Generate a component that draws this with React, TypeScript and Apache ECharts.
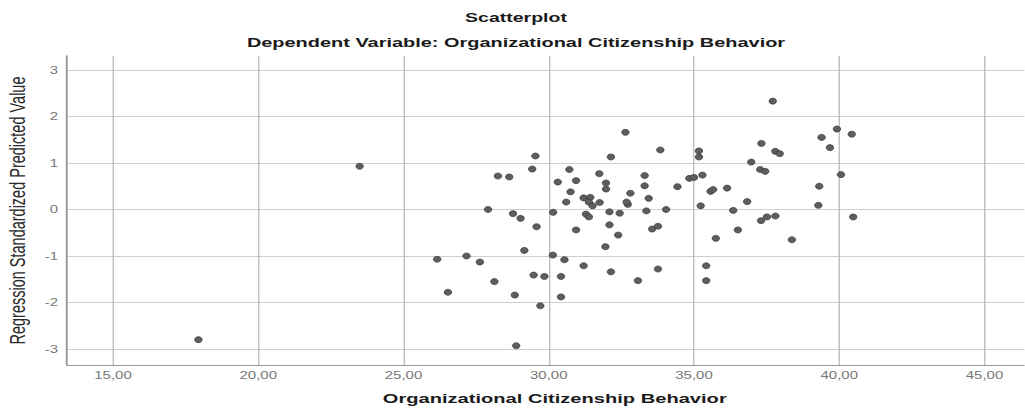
import React, { useEffect, useRef } from "react";
import * as echarts from "echarts";

// The reference image is stretched horizontally; the chart is drawn in a narrower box and stretched by CSS.
const SCALE_X = 1.5;

const chartTitle = "Scatterplot";
const chartSubtitle = "Dependent Variable: Organizational Citizenship Behavior";
const xAxisTitle = "Organizational Citizenship Behavior";
const yAxisTitle = "Regression Standardized Predicted Value";

const xTicks = [15, 20, 25, 30, 35, 40, 45];
const yTicks = [-3, -2, -1, 0, 1, 2, 3];

// Organizational Citizenship Behavior (x)
const ocb = [
  17.94, 23.49,
  32.64, 33.84, 29.54, 32.14, 29.43, 30.71, 28.25, 28.64, 31.74, 33.3,
  30.31, 30.94, 31.97, 31.97, 33.3, 30.75, 32.81, 31.2, 31.43, 33.44,
  30.6, 31.38, 31.51, 31.75, 32.72, 32.68, 27.91, 28.77, 29.03, 30.15,
  31.28, 31.38, 32.09, 32.44, 33.36, 34.04, 29.58, 32.09, 30.94, 32.39,
  33.56, 33.76, 31.95, 29.16, 26.16, 27.17, 27.63, 30.14, 30.54, 31.2,
  32.14, 33.76, 29.48, 29.85, 30.42, 28.13, 33.07, 26.53, 28.83, 30.42,
  29.71, 28.88,
  37.71, 39.92, 40.43, 39.39, 39.68, 37.32, 37.8, 37.95, 35.17, 35.17,
  36.97, 37.28, 37.45, 34.84, 35.0, 35.29, 34.43, 35.57, 35.66, 36.14,
  35.23, 36.83, 36.35, 39.31, 39.28, 40.06, 40.48, 37.31, 37.51, 37.8,
  36.51, 35.75, 38.37, 35.42, 35.42,
];

// Regression Standardized Predicted Value (y)
const zpred = [
  -2.8, 0.93,
  1.66, 1.28, 1.15, 1.13, 0.87, 0.86, 0.72, 0.7, 0.77, 0.73,
  0.59, 0.62, 0.57, 0.44, 0.51, 0.38, 0.35, 0.25, 0.26, 0.24,
  0.16, 0.16, 0.08, 0.15, 0.11, 0.16, 0.0, -0.09, -0.19, -0.06,
  -0.1, -0.16, -0.05, -0.08, -0.03, 0.0, -0.37, -0.33, -0.44, -0.55,
  -0.42, -0.36, -0.8, -0.88, -1.07, -1.0, -1.13, -0.98, -1.08, -1.21,
  -1.34, -1.28, -1.41, -1.44, -1.44, -1.55, -1.53, -1.78, -1.84, -1.88,
  -2.07, -2.93,
  2.33, 1.73, 1.62, 1.55, 1.33, 1.42, 1.25, 1.2, 1.26, 1.13,
  1.02, 0.86, 0.82, 0.67, 0.69, 0.74, 0.49, 0.39, 0.43, 0.46,
  0.08, 0.17, -0.02, 0.5, 0.09, 0.75, -0.16, -0.24, -0.16, -0.14,
  -0.44, -0.62, -0.65, -1.21, -1.53,
];

const FONT = "'Liberation Sans', Arial, Helvetica, sans-serif";

export default function App() {
  const ref = useRef<HTMLDivElement>(null);

  useEffect(() => {
    if (!ref.current) return;
    const chart = echarts.init(ref.current, null, { renderer: "svg" });
    const points = ocb.map((x, i) => [x, zpred[i]]);
    chart.setOption({
      animation: false,
      backgroundColor: "#ffffff",
      grid: {
        left: 67 / SCALE_X,
        right: 0,
        top: 56,
        bottom: 44,
        containLabel: false,
        outerBoundsMode: "none",
      },
      graphic: [
        {
          type: "text",
          x: 516 / SCALE_X,
          y: 18,
          style: {
            text: chartTitle,
            font: `bold 13px ${FONT}`,
            fill: "#1a1a1a",
            align: "center",
            verticalAlign: "middle",
          },
        },
        {
          type: "text",
          x: 516 / SCALE_X,
          y: 43,
          style: {
            text: chartSubtitle,
            font: `bold 13.3px ${FONT}`,
            fill: "#1a1a1a",
            align: "center",
            verticalAlign: "middle",
          },
        },
      ],
      xAxis: {
        type: "value",
        min: 13.417,
        max: 46.376,
        name: xAxisTitle,
        nameLocation: "middle",
        nameGap: 27,
        nameTextStyle: {
          fontFamily: FONT,
          fontWeight: "bold",
          fontSize: 13.4,
          color: "#1a1a1a",
          padding: [0, 0, 0, 12],
        },
        axisLine: { show: true, onZero: false, lineStyle: { color: "#999999", width: 1 } },
        axisTick: { show: false, customValues: xTicks },
        axisLabel: {
          customValues: xTicks,
          margin: 5,
          fontFamily: FONT,
          fontSize: 10,
          color: "#777777",
          formatter: (v: number) => v.toFixed(2).replace(".", ","),
        },
        splitLine: { show: true, lineStyle: { color: "#b4b4b4", width: 0.8 } },
      },
      yAxis: {
        type: "value",
        min: -3.344,
        max: 3.301,
        name: yAxisTitle,
        nameLocation: "middle",
        nameRotate: 90,
        nameGap: 21,
        nameTextStyle: {
          fontFamily: FONT,
          fontSize: 14.5,
          color: "#2a2a2a",
        },
        axisLine: { show: true, onZero: false, lineStyle: { color: "#999999", width: 1.3 } },
        axisTick: { show: false, customValues: yTicks },
        axisLabel: {
          customValues: yTicks,
          margin: 6,
          fontFamily: FONT,
          fontSize: 10,
          color: "#777777",
          formatter: (v: number) => String(v),
        },
        splitLine: { show: true, lineStyle: { color: "#cfcfcf", width: 1 } },
      },
      series: [
        {
          type: "scatter",
          data: points,
          symbol: "circle",
          symbolSize: [5, 6],
          itemStyle: { color: "#5e5e5e", borderColor: "#3a3a3a", borderWidth: 0.6, opacity: 1 },
          emphasis: { disabled: true },
        },
      ],
    });
    return () => chart.dispose();
  }, []);

  return (
    <div
      style={{
        position: "fixed",
        left: 0,
        top: 0,
        width: 1025,
        height: 409,
        overflow: "hidden",
        background: "#ffffff",
      }}
    >
      <div
        ref={ref}
        style={{
          width: 1025 / SCALE_X,
          height: 409,
          transform: `scaleX(${SCALE_X})`,
          transformOrigin: "0 0",
        }}
      />
    </div>
  );
}
